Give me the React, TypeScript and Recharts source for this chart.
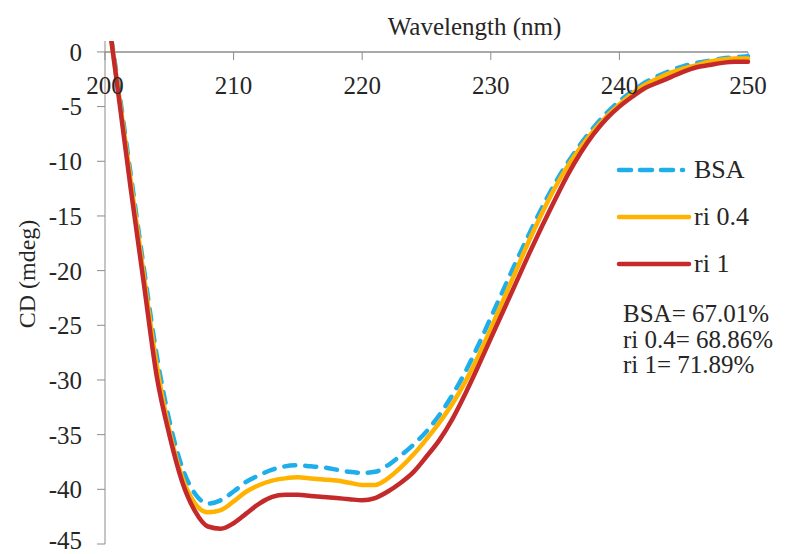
import { LineChart, Line, XAxis, YAxis, ReferenceLine } from "recharts";

// wavelength (nm)
const wavelengths = [
  200, 201, 202, 203, 204, 205, 206, 207, 208, 209, 210, 211, 212, 213, 214, 215, 216,
  217, 218, 219, 220, 221, 222, 223, 224, 225, 226, 227, 228, 229, 230, 231, 232, 233,
  234, 235, 236, 237, 238, 239, 240, 241, 242, 243, 244, 245, 246, 247, 248, 249, 250,
];

// CD (mdeg)
const bsa = [
  5.0, -2.8, -11.2, -19.6, -27.6, -33.7, -38.0, -40.4, -41.3, -41.0, -40.2, -39.3, -38.7,
  -38.2, -37.9, -37.8, -37.9, -38.0, -38.2, -38.4, -38.5, -38.4, -37.8, -36.9, -35.9, -34.7,
  -33.2, -31.4, -29.3, -26.9, -24.3, -21.7, -19.1, -16.6, -14.2, -12.0, -10.1, -8.4, -6.9,
  -5.6, -4.5, -3.6, -2.8, -2.2, -1.7, -1.3, -1.0, -0.8, -0.6, -0.5, -0.4,
];
const ri04 = [
  5.2, -3.2, -11.8, -20.3, -28.5, -34.6, -38.9, -41.3, -42.1, -41.9, -41.1, -40.2, -39.6,
  -39.2, -39.0, -38.9, -39.0, -39.1, -39.2, -39.4, -39.6, -39.6, -39.0, -38.0, -36.8, -35.4,
  -33.9, -32.2, -30.2, -27.9, -25.3, -22.6, -19.9, -17.2, -14.7, -12.4, -10.4, -8.7, -7.2,
  -5.9, -4.8, -3.8, -3.0, -2.4, -1.9, -1.5, -1.2, -0.9, -0.7, -0.6, -0.6,
];
const ri1 = [
  5.5, -3.5, -12.5, -21.0, -29.5, -35.0, -39.3, -42.0, -43.4, -43.6, -43.1, -42.2, -41.3,
  -40.7, -40.5, -40.5, -40.6, -40.7, -40.8, -40.9, -41.0, -40.8, -40.2, -39.4, -38.4, -37.0,
  -35.5, -33.6, -31.3, -28.8, -26.2, -23.6, -21.0, -18.4, -15.9, -13.5, -11.2, -9.2, -7.5,
  -6.1, -5.0, -4.1, -3.3, -2.8, -2.3, -1.8, -1.4, -1.2, -1.0, -0.9, -0.9,
];

const xTicks = [200, 210, 220, 230, 240, 250];
const yTicks = [0, -5, -10, -15, -20, -25, -30, -35, -40, -45];

const series = [
  { key: "bsa", name: "BSA", color: "#1EAEEA", dash: "11 10" },
  { key: "ri04", name: "ri 0.4", color: "#FFB300", dash: undefined },
  { key: "ri1", name: "ri 1", color: "#C4292B", dash: undefined },
];

const notes = ["BSA= 67.01%", "ri 0.4= 68.86%", "ri 1= 71.89%"];

const data = wavelengths.map((w, i) => ({ w, bsa: bsa[i], ri04: ri04[i], ri1: ri1[i] }));

const FONT = "'Liberation Serif', 'Times New Roman', serif";
const AXIS = "#8c8c8c";
const TEXT = "#262626";

export default function App() {
  return (
    <div
      style={{
        position: "absolute",
        left: 0,
        top: 0,
        width: 789,
        height: 554,
        background: "#fff",
        fontFamily: FONT,
        color: TEXT,
      }}
    >
      <LineChart
        width={789}
        height={554}
        data={data}
        margin={{ top: 41, right: 41, bottom: 10, left: 0 }}
      >
        <XAxis dataKey="w" type="number" domain={[200, 250]} hide />
        <YAxis
          domain={[-45, 1]}
          ticks={yTicks}
          allowDataOverflow
          width={105}
          stroke={AXIS}
          tickSize={8}
          tickMargin={15}
          tick={{ fontSize: 25, fill: TEXT, fontFamily: FONT }}
          label={{
            content: () => (
              <text
                x={27}
                y={274}
                transform="rotate(-90 27 274)"
                textAnchor="middle"
                dominantBaseline="central"
                fontSize={24}
                fill={TEXT}
                fontFamily={FONT}
              >
                CD (mdeg)
              </text>
            ),
          }}
        />
        <ReferenceLine y={0} stroke={AXIS} strokeWidth={1.5} />
        {xTicks.map((t) => (
          <ReferenceLine
            key={t}
            segment={[
              { x: t, y: 0 },
              { x: t, y: -0.75 },
            ]}
            stroke={AXIS}
            label={{
              value: String(t),
              position: "bottom",
              offset: 16,
              fontSize: 25,
              fill: TEXT,
              fontFamily: FONT,
            }}
          />
        ))}
        {series.map((s) => (
          <Line
            key={s.key}
            type="monotone"
            dataKey={s.key}
            name={s.name}
            stroke={s.color}
            strokeWidth={4.5}
            strokeDasharray={s.dash}
            strokeLinecap="round"
            dot={false}
            activeDot={false}
            isAnimationActive={false}
          />
        ))}
      </LineChart>

      <div
        style={{
          position: "absolute",
          left: 0,
          width: 789,
          top: 12,
          paddingLeft: 160,
          textAlign: "center",
          fontSize: 25,
          lineHeight: "30px",
          boxSizing: "border-box",
        }}
      >
        Wavelength (nm)
      </div>

      <div style={{ position: "absolute", left: 616, top: 146 }}>
        {series.map((s) => (
          <div
            key={s.key}
            style={{ display: "flex", alignItems: "center", height: 47, fontSize: 26 }}
          >
            <svg width={76} height={10} style={{ marginRight: 2 }}>
              <line
                x1={3}
                x2={s.dash ? 67 : 73}
                y1={5}
                y2={5}
                stroke={s.color}
                strokeWidth={4.5}
                strokeDasharray={s.dash ? "12 9" : undefined}
                strokeLinecap="round"
              />
            </svg>
            <span>{s.name}</span>
          </div>
        ))}
        <div style={{ marginTop: 14, marginLeft: 7, fontSize: 25, lineHeight: "25.5px" }}>
          {notes.map((n) => (
            <div key={n}>{n}</div>
          ))}
        </div>
      </div>
    </div>
  );
}
